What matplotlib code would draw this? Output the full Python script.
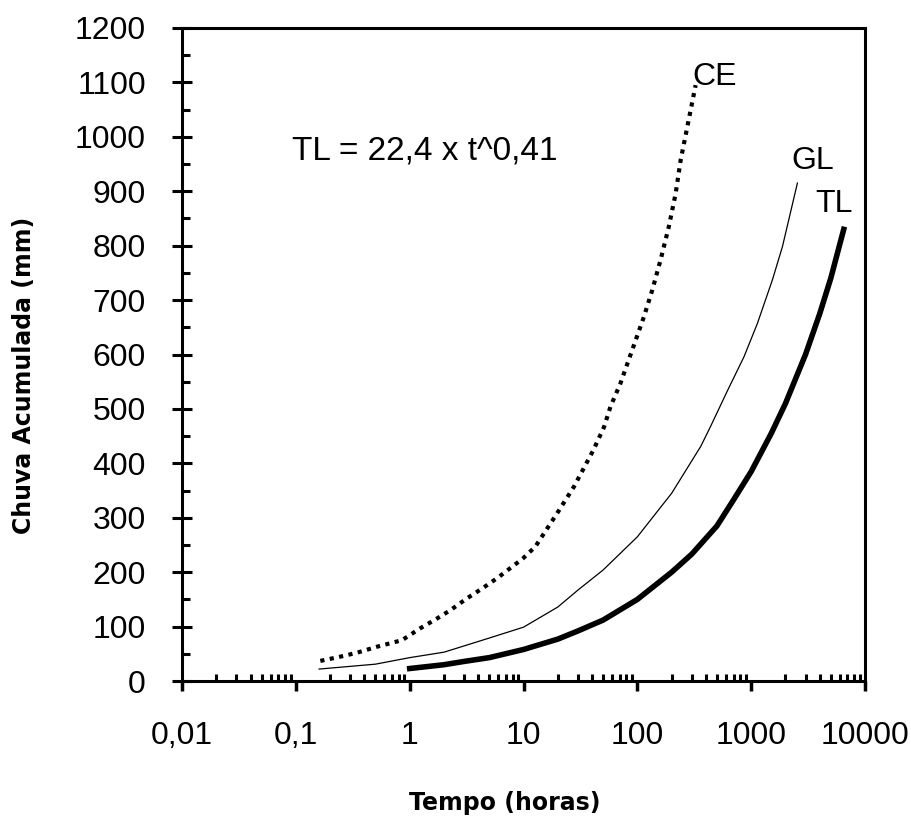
import matplotlib
matplotlib.use('Agg')
import matplotlib.pyplot as plt
from matplotlib.ticker import FixedLocator, LogLocator, NullFormatter

plt.rcParams['font.family'] = ['Liberation Sans', 'DejaVu Sans']

# values (time in hours, cumulative rain in mm)
t_ce = [0.164, 0.237, 0.344, 0.515, 0.855, 1.24, 1.68, 2.27, 3.19, 4.33, 5.86,
        7.94, 9.85, 12.7, 19.7, 27.7, 41, 51, 58, 71, 90, 114, 135, 160, 189,
        217, 240, 325]
ce = [37, 44, 52, 63, 75, 97, 113, 130, 152, 170, 189,
      210, 225, 247, 308, 357, 424, 467, 504, 547, 608, 669, 718, 774, 835,
      896, 957, 1095]

t_gl = [0.16, 0.5, 1, 2, 5, 10, 20, 30, 50, 100, 200, 360, 440, 617, 865,
        1133, 1535, 1880, 2546]
gl = [22, 31, 43, 53, 79, 99, 136, 167, 204, 265, 345, 431, 468, 533, 596,
      657, 737, 798, 915]

t_tl = [1, 2, 3, 5, 10, 20, 30, 50, 100, 200, 300, 500, 700, 1000, 1500,
        2000, 3000, 4000, 5000, 6500]
tl = [23, 30, 36, 43, 58, 77, 92, 112, 150, 200, 233, 285, 333, 385, 455,
      510, 600, 675, 740, 830]

x_ticks = [0.01, 0.1, 1, 10, 100, 1000, 10000]
x_labels = ['0,01', '0,1', '1', '10', '100', '1000', '10000']
y_ticks = list(range(0, 1201, 100))

fig = plt.figure(figsize=(9.12, 8.16), dpi=100)
ax = fig.add_axes([0.1996, 0.1654, 0.7489, 0.8003])

ax.plot(t_ce, ce, color='black', lw=3, linestyle=(0, (1.0, 1.3)),
        dash_capstyle='butt')
ax.plot(t_gl, gl, color='black', lw=0.9)
ax.plot(t_tl, tl, color='black', lw=4)

ax.set_xscale('log')
ax.set_xlim(0.01, 10000)
ax.set_ylim(0, 1200)

ax.xaxis.set_major_locator(FixedLocator(x_ticks))
ax.set_xticklabels(x_labels)
ax.xaxis.set_minor_locator(LogLocator(base=10, subs=range(2, 10), numticks=20))
ax.xaxis.set_minor_formatter(NullFormatter())
ax.set_yticks(y_ticks)
ax.yaxis.set_minor_locator(FixedLocator(range(50, 1200, 100)))

for s in ax.spines.values():
    s.set_linewidth(2.2)

ax.tick_params(axis='x', which='major', direction='out', length=7, width=2.5,
               labelsize=23, pad=22)
ax.tick_params(axis='x', which='minor', direction='in', length=5, width=2.2)
ax.tick_params(axis='y', which='major', direction='inout', length=14, width=2.2,
               labelsize=23, pad=19)
ax.tick_params(axis='y', which='minor', direction='in', length=6, width=2.2)

ax.text(478, 1110, 'CE', fontsize=23, ha='center', va='center')
ax.text(3475, 955, 'GL', fontsize=23, ha='center', va='center')
ax.text(5310, 877, 'TL', fontsize=23, ha='center', va='center')
ax.text(0.093, 974, 'TL = 22,4 x t^0,41', fontsize=24, ha='left', va='center')

fig.text(0.554, 0.016, 'Tempo (horas)', fontsize=17, fontweight='bold',
         family='DejaVu Sans', ha='center', va='center')
fig.text(0.026, 0.54, 'Chuva Acumulada (mm)', fontsize=17, fontweight='bold',
         family='DejaVu Sans', rotation=90, ha='center', va='center')

fig.savefig('out.png', dpi=100)
